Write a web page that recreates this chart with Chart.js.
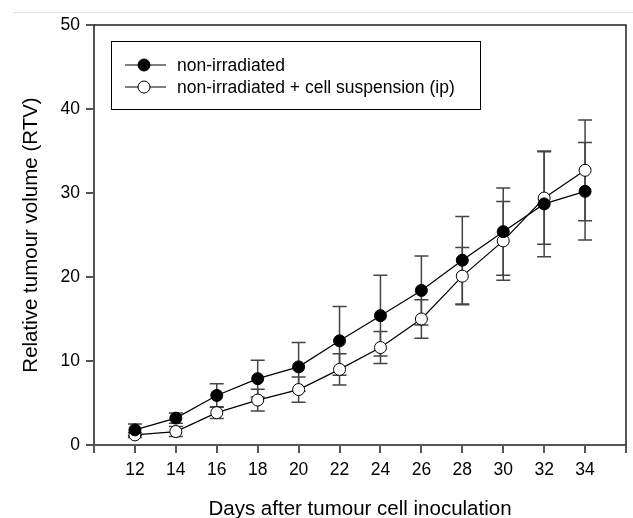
<!DOCTYPE html>
<html>
<head>
<meta charset="utf-8">
<script src="https://cdn.jsdelivr.net/npm/chart.js@4"></script>
<style>
  html, body { margin: 0; padding: 0; background: #fff; }
  canvas { display: block; }
</style>
</head>
<body>
<canvas id="rtvChart" width="633" height="518"></canvas>
<script>
(function () {
  'use strict';

  // --- Data ---
  var days = [12, 14, 16, 18, 20, 22, 24, 26, 28, 30, 32, 34];
  var nonIrradiated = [1.8, 3.2, 5.9, 7.9, 9.3, 12.4, 15.4, 18.4, 22.0, 25.4, 28.7, 30.2];
  var nonIrradiatedErr = [0.7, 0.6, 1.4, 2.2, 2.9, 4.1, 4.8, 4.1, 5.2, 5.2, 6.3, 5.8];
  var cellSusp = [1.2, 1.6, 3.85, 5.35, 6.6, 9.0, 11.6, 15.0, 20.1, 24.3, 29.4, 32.7];
  var cellSuspErr = [0.3, 0.6, 0.7, 1.3, 1.5, 1.85, 1.9, 2.3, 3.4, 4.7, 5.5, 6.0];
  var xTicks = [10, 12, 14, 16, 18, 20, 22, 24, 26, 28, 30, 32, 34, 36];
  var xLabelled = [12, 14, 16, 18, 20, 22, 24, 26, 28, 30, 32, 34];
  var yTicks = [0, 10, 20, 30, 40, 50];
  var seriesNames = ['non-irradiated', 'non-irradiated + cell suspension (ip)'];

  var fontFamily = "'Liberation Sans', Arial, sans-serif";
  var axisColor = '#555555';
  var errColor = '#444444';

  function toPoints(ys) {
    return days.map(function (d, i) { return { x: d, y: ys[i] }; });
  }

  // Error bars, drawn behind the markers
  var errorBarPlugin = {
    id: 'errorBars',
    beforeDatasetsDraw: function (chart) {
      var ctx = chart.ctx;
      var xs = chart.scales.x;
      var ys = chart.scales.y;
      var errs = [nonIrradiatedErr, cellSuspErr];
      var means = [nonIrradiated, cellSusp];
      ctx.save();
      ctx.strokeStyle = errColor;
      ctx.lineWidth = 1.5;
      for (var s = 0; s < 2; s++) {
        for (var i = 0; i < days.length; i++) {
          var px = xs.getPixelForValue(days[i]);
          var top = ys.getPixelForValue(means[s][i] + errs[s][i]);
          var bot = ys.getPixelForValue(means[s][i] - errs[s][i]);
          ctx.beginPath();
          ctx.moveTo(px, top);
          ctx.lineTo(px, bot);
          ctx.moveTo(px - 7, top);
          ctx.lineTo(px + 7, top);
          ctx.moveTo(px - 7, bot);
          ctx.lineTo(px + 7, bot);
          ctx.stroke();
        }
      }
      ctx.restore();
    }
  };

  // Frame (top/right), page rule and boxed legend
  var framePlugin = {
    id: 'frameLegend',
    afterDraw: function (chart) {
      var ctx = chart.ctx;
      var a = chart.chartArea;
      ctx.save();

      // faint rule above the figure
      ctx.strokeStyle = '#e4e4e4';
      ctx.lineWidth = 1;
      ctx.beginPath();
      ctx.moveTo(13, 12.5);
      ctx.lineTo(chart.width, 12.5);
      ctx.stroke();

      // top and right frame lines
      ctx.strokeStyle = '#222222';
      ctx.lineWidth = 1.5;
      ctx.beginPath();
      ctx.moveTo(a.left, a.top);
      ctx.lineTo(a.right, a.top);
      ctx.lineTo(a.right, a.bottom);
      ctx.stroke();

      // legend box
      var bx = 111, by = 41, bw = 369, bh = 68;
      ctx.strokeStyle = '#000';
      ctx.lineWidth = 1;
      ctx.strokeRect(bx + 0.5, by + 0.5, bw, bh);

      var rows = [65, 87];
      ctx.font = '17.5px ' + fontFamily;
      ctx.textBaseline = 'middle';
      ctx.textAlign = 'left';
      for (var i = 0; i < 2; i++) {
        var ds = chart.data.datasets[i];
        var ry = rows[i];
        ctx.strokeStyle = '#000';
        ctx.lineWidth = 1.2;
        ctx.beginPath();
        ctx.moveTo(125, ry);
        ctx.lineTo(166, ry);
        ctx.stroke();
        ctx.beginPath();
        ctx.arc(144, ry, 6, 0, Math.PI * 2);
        ctx.fillStyle = ds.pointBackgroundColor;
        ctx.fill();
        ctx.lineWidth = 1;
        ctx.stroke();
        ctx.fillStyle = '#000';
        ctx.fillText(seriesNames[i], 177, ry + 1);
      }
      ctx.restore();
    }
  };

  new Chart(document.getElementById('rtvChart').getContext('2d'), {
    type: 'line',
    data: {
      datasets: [
        {
          label: seriesNames[0],
          data: toPoints(nonIrradiated),
          borderColor: '#000',
          borderWidth: 1.2,
          pointRadius: 6,
          pointBackgroundColor: '#000',
          pointBorderColor: '#000',
          pointBorderWidth: 1,
          tension: 0
        },
        {
          label: seriesNames[1],
          data: toPoints(cellSusp),
          borderColor: '#000',
          borderWidth: 1.2,
          pointRadius: 6,
          pointBackgroundColor: '#fff',
          pointBorderColor: '#000',
          pointBorderWidth: 1,
          tension: 0
        }
      ]
    },
    options: {
      responsive: false,
      animation: false,
      layout: { padding: { top: 25, right: 2, left: 0, bottom: 0 } },
      scales: {
        x: {
          type: 'linear',
          min: 10,
          max: 36,
          afterFit: function (s) { s.height = 73; },
          afterBuildTicks: function (s) {
            s.ticks = xTicks.map(function (v) { return { value: v }; });
          },
          ticks: {
            autoSkip: false,
            maxRotation: 0,
            padding: 7,
            color: '#000',
            font: { family: fontFamily, size: 17.5 },
            callback: function (v) { return xLabelled.indexOf(v) >= 0 ? String(v) : ''; }
          },
          grid: { drawOnChartArea: false, tickLength: 8, color: axisColor, lineWidth: 2 },
          border: { color: axisColor, width: 2 },
          title: {
            display: true,
            text: 'Days after tumour cell inoculation',
            color: '#000',
            font: { family: fontFamily, size: 20.5, lineHeight: 0.85 },
            padding: 0
          }
        },
        y: {
          min: 0,
          max: 50,
          afterFit: function (s) { s.width = 94; },
          afterBuildTicks: function (s) {
            s.ticks = yTicks.map(function (v) { return { value: v }; });
          },
          ticks: {
            padding: 6,
            color: '#000',
            font: { family: fontFamily, size: 17.5 }
          },
          grid: { drawOnChartArea: false, tickLength: 8, color: axisColor, lineWidth: 2 },
          border: { color: axisColor, width: 2 },
          title: {
            display: true,
            text: 'Relative tumour volume (RTV)',
            color: '#000',
            font: { family: fontFamily, size: 20.5, lineHeight: 1.1 },
            padding: { top: 20, bottom: 0 }
          }
        }
      },
      plugins: {
        legend: { display: false },
        tooltip: { enabled: false }
      }
    },
    plugins: [errorBarPlugin, framePlugin]
  });
})();
</script>
</body>
</html>
